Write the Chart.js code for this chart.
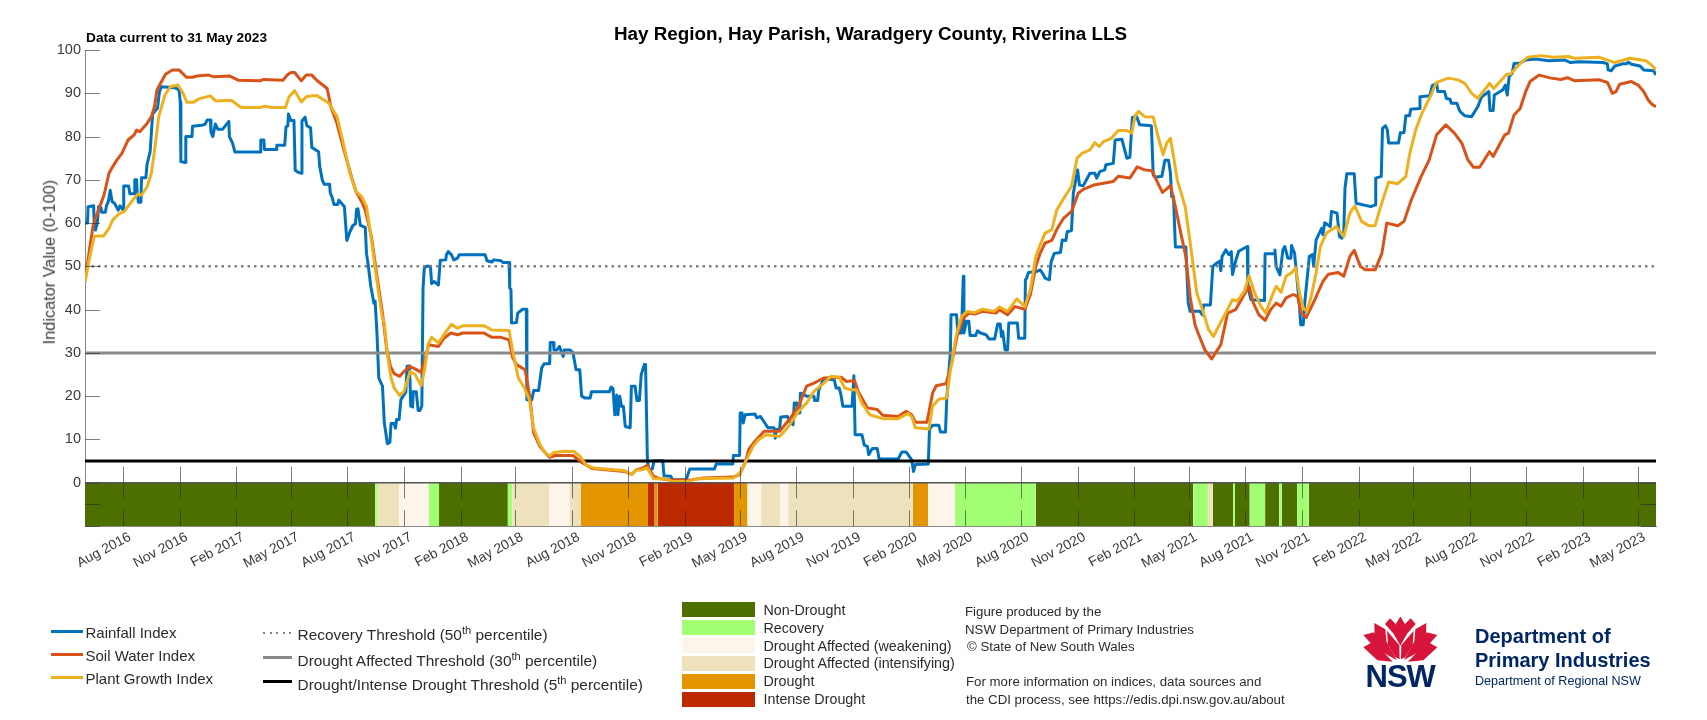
<!DOCTYPE html>
<html lang="en">
<head>
<meta charset="utf-8">
<title>Hay Region combined drought indicator</title>
<script src="https://cdn.jsdelivr.net/npm/chart.js@4"></script>
<style>
  html, body { margin: 0; background: #fff; }
  #page { position: relative; width: 1707px; height: 720px; overflow: hidden; font-family: "Liberation Sans", Arial, sans-serif; color: #2b2b2b; }
  #page canvas { position: absolute; left: 0; top: 0; }
  .t { position: absolute; white-space: nowrap; line-height: 1; }
  .t sup { font-size: 72%; line-height: 0; vertical-align: 0.55em; }
  .sw { position: absolute; }
</style>
</head>
<body>
<div id="page">
  <canvas id="cdi" width="1707" height="720"></canvas>
  <div id="legend"></div>
  <svg id="waratah" style="position:absolute;left:1340px;top:600px" width="367" height="110" viewBox="0 0 1101 330">
    <g id="petals" fill="#d7153a">
      <path d="M181 50 L206 92 L181 136 L156 92 Z"/>
      <path d="M150 55 L167 72 L158 98 L135 72 Z"/>
      <path d="M103 69 L136 88 L139 124 L170 180 L126 156 L104 116 Z"/>
      <path d="M141 92 L178 136 L179 178 L166 172 L144 134 Z"/>
      <path d="M70 105 L102 97 L112 122 L92 130 Z"/>
      <path d="M70 142 L107 121 L131 157 L158 185 L112 181 Z"/>
    </g>
    <use href="#petals" transform="translate(362,0) scale(-1,1)"/>
  </svg>
</div>
<script>
// Time axis: days counted from 31 May 2016, the first day of the record.
const recordStart = Date.UTC(2016, 4, 31);
const recordDays = 2556;

const tickLabels = [
  'Aug 2016','Nov 2016','Feb 2017','May 2017','Aug 2017','Nov 2017','Feb 2018','May 2018',
  'Aug 2018','Nov 2018','Feb 2019','May 2019','Aug 2019','Nov 2019','Feb 2020','May 2020',
  'Aug 2020','Nov 2020','Feb 2021','May 2021','Aug 2021','Nov 2021','Feb 2022','May 2022',
  'Aug 2022','Nov 2022','Feb 2023','May 2023'
];
const yTicks = [100, 90, 80, 70, 60, 50, 40, 30, 20, 10, 0, -5, -10];

// [day, index value]
const rainfallIndex = [
[0,60],[4,60],[5,63.8],[14,64],[15,60],[17,58.4],[20,60],[22,63.8],[26,63.5],[27,62.5],[33,62.5],[35,64],[38,65],[41,67.6],[44,65],[48,64.6],[54,63],[57,64],[62,63],[63,68.6],[71,68.6],[73,66.8],[80,66.8],[81,70],[84,70],[85,66.7],[87,64.8],[91,64.8],[92,70.5],[99,70.5],[101,73.6],[106,76.5],[110,85.2],[118,86.6],[121,90.2],[124,91.5],[146,91.3],[153,90.8],[155,88],[156,74.2],[163,74],[164,80],[174,80],[175,82.4],[190,82.6],[195,82.8],[199,83.8],[204,83.8],[205,81],[208,80],[212,82.9],[216,81.7],[224,81.7],[234,83.5],[235,80],[240,78.5],[244,76.4],[285,76.4],[286,79.2],[291,79.2],[292,77],[311,77],[312,78],[325,78],[327,82.2],[330,82.5],[331,85.2],[335,83.7],[340,83.7],[342,72.2],[346,71.8],[352,71.5],[353,83.6],[358,84.5],[361,82.5],[367,82],[369,77.5],[380,76.5],[382,73],[386,70],[389,69],[398,69],[399,67],[402,66],[405,64.3],[411,64.3],[413,65.3],[422,63.8],[426,56],[431,58],[436,59.5],[440,59.8],[442,63.2],[444,63.3],[448,59.5],[456,59],[458,53],[461,50],[465,45.4],[470,41.5],[472,42],[475,34.6],[478,24.2],[484,22.3],[487,13.8],[492,9],[496,9.3],[498,13.7],[503,13.7],[505,12.6],[507,14.6],[511,14.6],[514,19.2],[519,20.3],[522,21],[524,26.9],[528,27],[530,17.7],[533,17.5],[534,21],[539,21],[542,16.7],[545,16.7],[548,17.7],[550,45],[552,49.6],[555,50],[562,50],[564,46],[568,46.5],[575,45.7],[578,51.4],[587,51.5],[588,52.7],[591,53.4],[596,52.7],[600,51.5],[606,51.9],[609,52.7],[651,52.7],[654,51.3],[662,51],[665,51.5],[677,51.3],[680,50.9],[690,50.9],[691,45],[693,44.6],[694,36.9],[702,37],[704,39.2],[712,40.1],[718,40.1],[719,19.2],[727,19.2],[730,21.3],[738,21.3],[740,23.4],[743,26.5],[747,27.5],[756,27.5],[757,32.4],[762,32.4],[763,30.7],[768,30.7],[772,31.5],[778,29.2],[780,30.7],[789,30.7],[794,30],[799,26.1],[805,26.1],[808,20],[813,19.6],[822,19.6],[824,21],[853,21],[856,22.1],[859,21.8],[862,15.7],[865,20.3],[867,15.7],[870,20],[873,17.6],[876,17.6],[879,13],[887,12.7],[889,22.3],[895,22.3],[898,19],[902,19],[905,25],[910,27.3],[912,27.3],[915,5.3],[917,3],[923,3.2],[926,5.1],[940,5.1],[942,1.6],[953,1.5],[956,0.7],[978,0.7],[984,3.2],[1024,3.2],[1027,4.3],[1054,4.3],[1055,6.3],[1065,6.3],[1066,16.1],[1069,16.1],[1071,13.8],[1074,15.7],[1090,15.9],[1093,15],[1099,15.3],[1108,13.4],[1111,12.7],[1121,12.7],[1123,10.3],[1125,12.3],[1130,12.3],[1132,15.2],[1143,15.3],[1146,14.2],[1152,13.4],[1154,18.4],[1158,18.4],[1161,16.1],[1163,16.1],[1164,20.7],[1174,20],[1186,20],[1187,19],[1192,19],[1194,21.5],[1202,24],[1219,23.8],[1222,21.9],[1227,21.9],[1230,20.3],[1233,17.7],[1248,17.7],[1251,24.7],[1253,11.1],[1264,11.1],[1268,8.7],[1273,8.4],[1275,6.5],[1281,7.9],[1289,7.9],[1292,5.5],[1323,5.5],[1329,7.1],[1336,7.1],[1345,5.3],[1348,2.6],[1351,4.2],[1372,4.3],[1374,12.3],[1379,13.3],[1389,13.3],[1392,11.7],[1400,11.7],[1402,19.2],[1404,23],[1408,30],[1409,38.8],[1418,38.8],[1420,34.6],[1426,34.6],[1429,47.7],[1430,34.6],[1434,37.3],[1438,37.3],[1440,34],[1449,34],[1452,35.1],[1457,34.6],[1466,34.2],[1471,33.2],[1480,33.2],[1485,36.7],[1489,36.7],[1491,33.8],[1493,35],[1497,30.7],[1501,30.7],[1503,36.9],[1517,36.9],[1519,33.4],[1529,33.4],[1530,46.9],[1532,47.3],[1535,48.6],[1548,48.8],[1554,49.2],[1558,48.4],[1562,47.3],[1569,46.9],[1572,51.1],[1577,53],[1587,53.2],[1590,56.1],[1596,56],[1598,58],[1605,58.3],[1608,66.9],[1615,72.3],[1618,68.8],[1624,68.6],[1635,71.5],[1643,71.5],[1646,70.4],[1651,71.9],[1659,72.3],[1661,73.5],[1673,73.8],[1676,79.2],[1687,79.4],[1695,75],[1700,75.2],[1704,84.4],[1711,84.6],[1716,82.7],[1735,82.5],[1738,71.1],[1741,70.6],[1752,70.8],[1757,74.5],[1763,74.5],[1766,71.5],[1768,66.1],[1771,66.1],[1774,54.5],[1791,54.5],[1795,41.5],[1798,39.6],[1814,39.6],[1818,38.8],[1820,41.1],[1831,41.1],[1835,50],[1840,50.6],[1846,51.2],[1848,49],[1850,52.3],[1856,53.8],[1861,52.7],[1865,53.4],[1867,48.1],[1872,51.2],[1877,53.5],[1891,54.6],[1892,45.4],[1897,42.3],[1919,42.1],[1920,52.9],[1935,52.9],[1936,53.8],[1938,50],[1944,48],[1949,53.8],[1952,54.6],[1957,51.9],[1962,51.9],[1963,54.8],[1968,53],[1971,48.5],[1976,40.8],[1978,36.5],[1982,36.5],[1985,42.3],[1992,52.3],[1997,52.7],[1999,50],[2003,56.1],[2012,58.8],[2014,57.3],[2017,60.1],[2026,59.2],[2028,62.7],[2037,62.3],[2041,56.9],[2045,56.5],[2048,58],[2050,68.1],[2053,71.4],[2065,71.4],[2068,64.6],[2092,63.8],[2099,64.2],[2100,70.4],[2109,70.8],[2111,81.9],[2116,82.5],[2119,81.5],[2121,78.5],[2137,78.5],[2140,80.9],[2146,80.9],[2149,84.8],[2155,84.8],[2157,86.3],[2171,86.5],[2172,89.2],[2188,89.4],[2192,91.8],[2199,92.3],[2201,90.4],[2212,90.4],[2215,88.8],[2221,88.6],[2223,87.7],[2232,87.7],[2237,85.8],[2245,84.8],[2256,84.6],[2266,86.9],[2272,89.1],[2284,90.4],[2286,86],[2291,86],[2293,89.6],[2307,90.8],[2311,91.9],[2314,89.6],[2317,93.8],[2322,94.6],[2325,96.9],[2335,97],[2344,97.7],[2360,97.9],[2382,97.5],[2407,97.7],[2417,97.1],[2430,97.3],[2470,97.1],[2477,96.8],[2478,95.4],[2483,95.2],[2489,96.3],[2502,96.8],[2508,96.8],[2511,97.2],[2516,96.7],[2530,96.3],[2536,95.4],[2552,95.2],[2556,94.2]
];
const soilWaterIndex = [
[0,46.5],[8,54.6],[13,59.2],[17,61.1],[25,64.2],[31,66.5],[39,71.5],[45,73],[52,74.6],[60,76.1],[70,79.2],[80,80.4],[84,81.5],[89,81.1],[101,83],[108,84.6],[113,86.9],[117,90.7],[123,92.3],[131,94.4],[142,95.4],[153,95.4],[165,93.7],[175,93.7],[182,94],[201,94.2],[210,93.8],[235,94],[250,93],[285,92.9],[291,93.2],[322,93],[329,94.2],[335,94.8],[341,94.8],[352,92.9],[360,94.2],[369,94.2],[378,92.9],[394,91.1],[400,86.9],[410,83],[422,76.5],[435,70],[441,67.3],[450,65],[456,63],[466,56.9],[475,47.7],[484,39.2],[491,30.7],[497,26.9],[503,25.2],[512,24.6],[519,25.7],[528,26.9],[537,26.3],[547,25.5],[553,28.4],[559,31.9],[575,31.5],[584,33.4],[595,34.6],[606,34.2],[615,34.6],[649,34.6],[662,33.6],[677,33.6],[690,33],[696,28.8],[702,27.3],[716,26.1],[724,19.6],[730,11.5],[740,8.4],[749,6.9],[756,5.9],[765,6.3],[794,6.3],[809,4.6],[825,3.3],[856,2.9],[878,2.6],[889,1.9],[897,3],[906,3.3],[915,4],[925,1.5],[934,1],[950,0.7],[984,0.6],[1006,1.1],[1055,1.3],[1065,1.9],[1074,4.6],[1080,7.7],[1090,9.6],[1105,11.9],[1130,11.9],[1146,14.6],[1161,17.7],[1174,22.3],[1186,23],[1202,24.2],[1230,24.4],[1239,23.4],[1252,23.6],[1258,21.1],[1273,17.3],[1289,16.9],[1298,15.6],[1323,15.3],[1336,16.5],[1345,15.7],[1351,14],[1370,14],[1379,20.7],[1385,22.4],[1401,22.9],[1410,27.6],[1420,34.6],[1429,38],[1438,39.2],[1448,39],[1460,39.6],[1482,39.2],[1488,40],[1501,38.8],[1513,40.7],[1529,40.1],[1538,43.4],[1547,50],[1554,53],[1562,55.4],[1573,56],[1581,58.5],[1592,61.1],[1605,62.7],[1616,66.9],[1624,67.8],[1641,68.8],[1673,69.6],[1681,70.8],[1700,70.4],[1712,73],[1724,72.3],[1736,72.1],[1743,70],[1753,67.1],[1760,67.9],[1766,68.7],[1774,63.8],[1784,56.9],[1791,52.3],[1798,43],[1806,36.5],[1811,34.6],[1822,30.7],[1833,28.6],[1848,31.9],[1859,39.2],[1872,40],[1884,43],[1894,45.4],[1901,41.5],[1910,38.8],[1920,37.5],[1929,40],[1938,41.5],[1946,40.8],[1954,42.7],[1966,43.5],[1973,43],[1979,39.2],[1987,38.2],[2001,42.3],[2014,46.5],[2023,48.2],[2039,48.6],[2048,47.7],[2058,52.3],[2065,53.7],[2075,50],[2083,49.2],[2099,49.2],[2110,53],[2118,60],[2136,59.4],[2146,60.4],[2158,65.4],[2174,70.8],[2187,74.6],[2199,80.4],[2214,82.7],[2228,80.8],[2240,78.5],[2250,74.6],[2259,72.9],[2269,72.9],[2285,76.5],[2291,75.4],[2310,80.4],[2316,80.8],[2325,85],[2335,86.5],[2344,90.4],[2351,92.7],[2366,94.2],[2385,93.5],[2401,93.2],[2412,93.6],[2423,92.9],[2464,93.1],[2477,92.5],[2485,90],[2491,90.4],[2497,92.1],[2516,92.7],[2527,91.9],[2536,90.4],[2543,88.5],[2549,87.5],[2556,86.9]
];
const plantGrowthIndex = [
[0,46.5],[8,52.3],[15,56.9],[20,57],[30,57],[39,58.8],[45,60.7],[55,62.1],[64,62.7],[76,65],[86,66.7],[92,66.5],[101,68.4],[108,71.5],[114,77.7],[120,84.6],[130,89.6],[139,91.5],[151,91.9],[157,90.7],[166,87.9],[176,87.9],[185,88.7],[204,89.4],[213,88.2],[238,88.4],[254,86.7],[285,86.7],[293,87],[304,86.7],[326,86.7],[332,89.2],[341,90.6],[352,88],[360,89.2],[369,89.4],[378,89.4],[397,87.7],[410,84.6],[419,79.2],[431,71.5],[441,67.3],[450,66.1],[458,63.8],[466,56.1],[475,46.5],[484,38],[487,36.9],[492,29.6],[498,24.2],[503,21.9],[512,20.1],[519,21.1],[529,25.7],[537,25],[547,22.4],[553,26.5],[558,31.9],[564,33.6],[575,32.3],[584,34.2],[596,36.6],[606,35.7],[615,36.3],[649,36.3],[662,35.3],[690,35.2],[696,30.3],[705,24.2],[715,21.9],[723,19.2],[730,12.6],[740,8.8],[749,6.9],[756,6.2],[763,7],[780,7.3],[796,7.2],[806,6],[816,4],[828,3.4],[859,3],[878,2.8],[889,1.9],[897,2.9],[906,3],[915,3.4],[925,0.9],[943,0.9],[956,0.3],[981,0.3],[996,0.9],[1055,1.1],[1066,2.3],[1075,5],[1087,8.4],[1096,10],[1108,11.1],[1130,10.7],[1143,12.7],[1161,16.5],[1174,18.4],[1186,21.1],[1202,23],[1214,24.6],[1227,24.4],[1236,21.9],[1245,21.5],[1255,21.5],[1264,18.4],[1277,15.7],[1298,14.8],[1323,14.8],[1339,16],[1345,15.3],[1351,12.7],[1373,12.4],[1379,17.7],[1389,19.3],[1402,19.6],[1407,25],[1417,33.8],[1426,38.4],[1435,39.6],[1448,39.3],[1460,40.1],[1479,39.6],[1488,40.6],[1501,39.6],[1516,42.5],[1529,40.7],[1538,44.6],[1547,52.3],[1554,55],[1562,57.7],[1573,58.5],[1581,63],[1594,66.1],[1605,68.5],[1614,75],[1622,76.1],[1635,76.9],[1643,78.6],[1650,77.7],[1657,78.8],[1670,79.6],[1681,81.4],[1695,81.4],[1703,80.8],[1709,85],[1714,85.8],[1724,84.6],[1738,84.5],[1746,80],[1754,75.8],[1760,78.5],[1766,79.6],[1771,75.4],[1777,70],[1790,63.8],[1799,54.6],[1809,43.8],[1818,40],[1828,35.4],[1836,33.8],[1847,36.9],[1856,39.2],[1867,42.3],[1875,42],[1886,44.2],[1894,47.8],[1903,43.8],[1913,40.8],[1921,39.2],[1930,42.7],[1938,45.4],[1946,44],[1954,47.7],[1963,48.5],[1970,49.6],[1976,43.8],[1982,40.4],[1988,39.6],[1995,43],[2003,48.5],[2010,54.6],[2020,57.7],[2036,59.2],[2048,56.9],[2058,62.3],[2066,64],[2077,60.4],[2089,59.4],[2099,59.4],[2108,63.8],[2121,69.5],[2136,69.1],[2149,70.8],[2155,75.8],[2165,81.5],[2174,85],[2190,89.6],[2199,92.5],[2218,93.5],[2234,93.1],[2245,92.3],[2256,90],[2266,88.8],[2275,90.4],[2285,92.3],[2292,91.1],[2313,94.4],[2319,94.4],[2335,96.9],[2347,98.3],[2370,98.7],[2388,98.3],[2414,98.5],[2423,98.1],[2464,98.3],[2489,97.1],[2514,98.1],[2540,97.5],[2549,96.5],[2556,95.4]
];

const recoveryThreshold = 50;
const droughtAffectedThreshold = 30;
const intenseDroughtThreshold = 5;

// Start and end day of each spell in the phase strip along the bottom.
const nonDroughtSpells = [[0,472],[576,688],[1547,1803],[1835,1868],[1871,1895],[1920,1943],[1947,1972],[1991,2556]];
const recoverySpells = [[472,475],[559,576],[688,695],[1415,1547],[1803,1827],[1868,1871],[1895,1920],[1943,1947],[1972,1991]];
const weakeningSpells = [[511,559],[755,788],[1078,1100],[1131,1144],[1372,1415]];
const intensifyingSpells = [[475,511],[695,755],[788,807],[1100,1131],[1144,1347],[1827,1835]];
const droughtSpells = [[807,916],[927,932],[1056,1078],[1347,1372]];
const intenseSpells = [[916,927],[932,1056]];

const phaseColours = {
  nonDrought: '#4c6f00', recovery: '#a2ff73', weakening: '#fdf5e9',
  intensifying: '#eee2bd', drought: '#e39600', intense: '#bd2a00'
};
const lineColours = { rainfall: '#0072bd', soil: '#d95319', plant: '#edb120' };
const axisInk = '#3a3a3a';

const toPoints = pairs => pairs.map(([x, y]) => ({ x, y }));
const dayOf = label => {
  const [mon, yr] = label.split(' ');
  const m = ['Jan','Feb','Mar','Apr','May','Jun','Jul','Aug','Sep','Oct','Nov','Dec'].indexOf(mon);
  return Math.round((Date.UTC(+yr, m, 1) - recordStart) / 86400000);
};
const tickDays = tickLabels.map(dayOf);

function phaseDataset(label, spells, colour) {
  const data = [];
  spells.forEach(([a, b]) => data.push({ x: a, y: 0 }, { x: b, y: 0 }, { x: b, y: null }));
  return { label, data, borderWidth: 0, pointRadius: 0, backgroundColor: colour,
           fill: { value: -10 }, spanGaps: false, order: 50 };
}
function indexDataset(label, pairs, colour, order) {
  return { label, data: toPoints(pairs), borderColor: colour, borderWidth: 3, pointRadius: 0,
           fill: false, tension: 0, borderJoinStyle: 'round', order };
}
function thresholdDataset(label, value, colour, width, dash, order) {
  return { label, data: [{ x: 0, y: value }, { x: recordDays, y: value }], borderColor: colour,
           borderWidth: width, borderDash: dash, pointRadius: 0, fill: false, order };
}

// Inward tick marks, which the library only draws outside the axes.
const innerTicks = {
  id: 'innerTicks',
  afterDatasetsDraw(chart) {
    const { ctx, scales: { x, y } } = chart;
    const y0 = y.getPixelForValue(0), yMid = y.getPixelForValue(-5), yEnd = y.getPixelForValue(-10);
    ctx.save();
    ctx.lineWidth = 1;
    ctx.strokeStyle = 'rgba(40,40,40,0.6)';
    ctx.beginPath();
    tickDays.forEach(d => {
      const px = Math.round(x.getPixelForValue(d)) + 0.5;
      ctx.moveTo(px, y0 - 16); ctx.lineTo(px, yMid - 6);
      ctx.moveTo(px, yMid + 6); ctx.lineTo(px, yEnd);
    });
    yTicks.forEach(v => {
      const py = Math.round(y.getPixelForValue(v)) + 0.5;
      ctx.moveTo(x.left, py); ctx.lineTo(x.left + 15, py);
      if (v <= 0) { ctx.moveTo(x.right - 15, py); ctx.lineTo(x.right, py); }
    });
    ctx.stroke();
    ctx.strokeStyle = '#555';
    ctx.lineWidth = 1.5;
    ctx.beginPath();
    ctx.moveTo(x.left, y0); ctx.lineTo(x.right, y0);
    ctx.stroke();
    ctx.restore();
  }
};

new Chart(document.getElementById('cdi'), {
  type: 'line',
  data: {
    datasets: [
      phaseDataset('Non-Drought', nonDroughtSpells, phaseColours.nonDrought),
      phaseDataset('Recovery', recoverySpells, phaseColours.recovery),
      phaseDataset('Drought Affected (weakening)', weakeningSpells, phaseColours.weakening),
      phaseDataset('Drought Affected (intensifying)', intensifyingSpells, phaseColours.intensifying),
      phaseDataset('Drought', droughtSpells, phaseColours.drought),
      phaseDataset('Intense Drought', intenseSpells, phaseColours.intense),
      indexDataset('Rainfall Index', rainfallIndex, lineColours.rainfall, 30),
      thresholdDataset('Recovery Threshold', recoveryThreshold, '#808080', 2.5, [2.5, 4], 20),
      thresholdDataset('Drought Affected Threshold', droughtAffectedThreshold, '#8a8a8a', 3, [], 20),
      thresholdDataset('Drought/Intense Drought Threshold', intenseDroughtThreshold, '#000', 3, [], 20),
      indexDataset('Soil Water Index', soilWaterIndex, lineColours.soil, 10),
      indexDataset('Plant Growth Index', plantGrowthIndex, lineColours.plant, 5)
    ]
  },
  options: {
    responsive: false,
    animation: false,
    layout: { padding: { left: 0, right: 51, top: 0, bottom: 0 } },
    plugins: {
      legend: { display: false },
      tooltip: { enabled: false },
      title: {
        display: true, fullSize: false, text: 'Hay Region, Hay Parish, Waradgery County, Riverina LLS',
        color: '#000', font: { family: '"Liberation Sans"', size: 18.85, weight: 'bold', lineHeight: '20px' },
        padding: { top: 25, bottom: 5 }
      }
    },
    scales: {
      x: {
        type: 'linear', min: 0, max: recordDays,
        grid: { display: false, drawTicks: false },
        border: { display: true, color: '#888', width: 1 },
        afterBuildTicks: s => { s.ticks = tickDays.map(value => ({ value })); },
        afterFit: s => { s.height = 194; s.paddingLeft = 0; s.paddingRight = 0; },
        ticks: {
          autoSkip: false, minRotation: 28, maxRotation: 28, padding: 3, labelOffset: 7,
          color: axisInk, font: { family: '"Liberation Sans"', size: 13.8 },
          callback: v => tickLabels[tickDays.indexOf(v)] ?? ''
        }
      },
      y: {
        type: 'linear', min: -10, max: 100,
        grid: { display: false, drawTicks: false },
        border: { display: true, color: '#888', width: 1 },
        afterBuildTicks: s => { s.ticks = yTicks.map(value => ({ value })); },
        afterFit: s => { s.width = 85; s.paddingTop = 0; s.paddingBottom = 0; },
        ticks: {
          padding: 4, color: axisInk, font: { family: '"Liberation Sans"', size: 14.5 },
          callback: v => (v >= 0 ? String(v) : '')
        }
      }
    }
  },
  plugins: [innerTicks]
});

// Text and keys placed around the chart.
const indexKey = [['Rainfall Index', lineColours.rainfall, 631], ['Soil Water Index', lineColours.soil, 654], ['Plant Growth Index', lineColours.plant, 677]];
const thresholdKey = [
  ['Recovery Threshold (50<sup>th</sup> percentile)', 'dots', 633, 635],
  ['Drought Affected Threshold (30<sup>th</sup> percentile)', '#888', 657, 661],
  ['Drought/Intense Drought Threshold (5<sup>th</sup> percentile)', '#000', 681, 684.5]
];
const phaseKey = [
  ['Non-Drought', phaseColours.nonDrought, 602, 610],
  ['Recovery', phaseColours.recovery, 620, 628],
  ['Drought Affected (weakening)', phaseColours.weakening, 638, 646],
  ['Drought Affected (intensifying)', phaseColours.intensifying, 656, 663],
  ['Drought', phaseColours.drought, 674, 681],
  ['Intense Drought', phaseColours.intense, 692, 699]
];
const creditLines = [
  ['Figure produced by the', 965, 612], ['NSW Department of Primary Industries', 965, 629.5],
  ['\u00A9 State of New South Wales', 967, 646.5],
  ['For more information on indices, data sources and', 966, 682],
  ['the CDI process, see https://edis.dpi.nsw.gov.au/about', 966, 700]
];

const host = document.getElementById('legend');
function text(html, left, centre, size, extra) {
  const el = document.createElement('div');
  el.className = 't';
  el.innerHTML = html;
  el.style.cssText = `left:${left}px;top:${centre - size / 2}px;font-size:${size}px;${extra || ''}`;
  host.appendChild(el);
}
function swatch(left, top, w, h, bg) {
  const el = document.createElement('div');
  el.className = 'sw';
  el.style.cssText = `left:${left}px;top:${top}px;width:${w}px;height:${h}px;${bg}`;
  host.appendChild(el);
}
text('Data current to 31 May 2023', 86, 38, 13.7, 'font-weight:bold;color:#000');
text('Indicator Value (0-100)', 49, 262, 16.3, 'color:' + axisInk + ';transform:translate(-50%,0) rotate(-90deg);transform-origin:50% 50%');
indexKey.forEach(([t, c, y]) => { swatch(51, y - 1.5, 32, 3, `background:${c}`); text(t, 85.5, y + 1, 15); });
thresholdKey.forEach(([t, c, ly, ty]) => {
  if (c === 'dots') swatch(263, ly - 1, 29, 2, 'background:repeating-linear-gradient(90deg,#808080 0 2px,transparent 2px 6.5px)');
  else swatch(263, ly - 1.5, 29, 3, `background:${c}`);
  text(t, 297.5, ty, 15.45);
});
phaseKey.forEach(([t, c, top, ty]) => { swatch(682, top, 73, 15, `background:${c}`); text(t, 763.5, ty, 14.3); });
creditLines.forEach(([t, x, y]) => text(t, x, y, 13.25));
const navy = 'color:#002664;';
text('NSW', 1365.5, 676, 31, navy + 'font-weight:bold;letter-spacing:-1px');
text('Department of', 1475, 636, 20, navy + 'font-weight:bold');
text('Primary Industries', 1475, 660, 20, navy + 'font-weight:bold');
text('Department of Regional NSW', 1475, 681, 12.6, navy);
</script>
</body>
</html>
